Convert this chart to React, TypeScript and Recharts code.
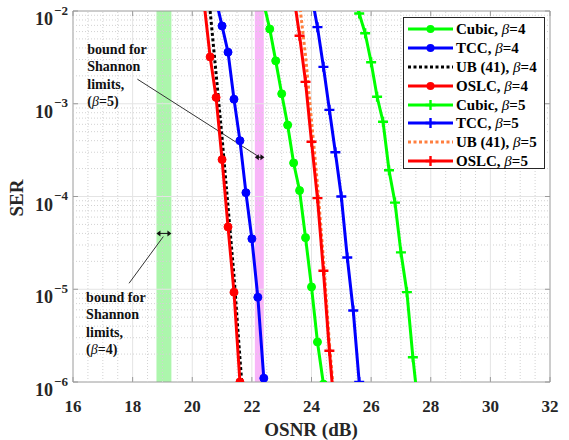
import React from "react";
import {
  ComposedChart,
  Line,
  XAxis,
  YAxis,
  Label,
  ReferenceArea,
  ReferenceLine,
  ReferenceDot,
} from "recharts";

const FONT = '"Liberation Serif", "Times New Roman", serif';
const INK = "#262626";
const FRAME = "#9a9a9a";
const MAJOR = "#e4e4e4";
const MINOR = "#d2d2d2";

const GREEN = "#00ff00";
const BLUE = "#0000ff";
const RED = "#ff0000";
const ORANGE = "#ff7f3f";
const BLACK = "#000000";

// plot box in px (fixed layout: margins + axis sizes)
const W = 569;
const H = 440;
const PLOT = { left: 73, right: 550, top: 11, bottom: 382 };

const X_TICKS = [16, 18, 20, 22, 24, 26, 28, 30, 32];
const Y_TICKS = [1e-6, 1e-5, 1e-4, 1e-3, 1e-2];

// beta = 4
const CUBIC4_OSNR = [22.4, 22.6, 22.8, 23.0, 23.2, 23.4, 23.6, 23.8, 24.0, 24.2, 24.4];
const CUBIC4_SER = [1.2e-2, 6.4e-3, 2.9e-3, 1.28e-3, 5.9e-4, 2.3e-4, 1.16e-4, 3.6e-5, 1.06e-5, 2.7e-6, 9.5e-7];
const TCC4_OSNR = [20.8, 21.0, 21.2, 21.4, 21.6, 21.8, 22.0, 22.2, 22.4];
const TCC4_SER = [1.3e-2, 6.9e-3, 3.6e-3, 1.12e-3, 4.0e-4, 1.1e-4, 3.5e-5, 8.2e-6, 1.1e-6];
const UB4_OSNR = [20.6, 20.8, 21.0, 21.2, 21.4, 21.6, 21.8];
const UB4_SER = [1.0e-2, 2.1e-3, 4.3e-4, 7.8e-5, 1.4e-5, 1.8e-6, 2.5e-7];
const OSLC4_OSNR = [20.4, 20.6, 20.8, 21.0, 21.2, 21.4, 21.6];
const OSLC4_SER = [1.2e-2, 3.2e-3, 1.17e-3, 2.5e-4, 4.7e-5, 9.3e-6, 1.0e-6];

// beta = 5
const CUBIC5_OSNR = [25.4, 25.6, 25.8, 26.0, 26.2, 26.4, 26.6, 26.8, 27.0, 27.2, 27.4, 27.6];
const CUBIC5_SER = [1.5e-2, 9.4e-3, 5.75e-3, 2.8e-3, 1.19e-3, 6.4e-4, 1.92e-4, 8.6e-5, 2.5e-5, 9.3e-6, 1.85e-6, 4.7e-7];
const TCC5_OSNR = [24.0, 24.2, 24.4, 24.6, 24.8, 25.0, 25.2, 25.4, 25.6];
const TCC5_SER = [1.5e-2, 6.7e-3, 2.5e-3, 8.6e-4, 3.0e-4, 1.0e-4, 2.2e-5, 5.9e-6, 1.0e-6];
const UB5_OSNR = [23.6, 23.8, 24.0, 24.2, 24.4, 24.6, 24.8];
const UB5_SER = [1.2e-2, 3.3e-3, 6.6e-4, 1.36e-4, 2.1e-5, 2.65e-6, 4.5e-7];
const OSLC5_OSNR = [23.4, 23.6, 23.8, 24.0, 24.2, 24.4, 24.6, 24.8];
const OSLC5_SER = [1.5e-2, 5.4e-3, 1.72e-3, 3.9e-4, 9.6e-5, 1.58e-5, 2.17e-6, 3.9e-7];

// Shannon-limit bands [from, to] in dB
const BAND4 = [18.8, 19.3];
const BAND5 = [22.1, 22.4];

type Marker = "circle" | "plus" | "none";
type Series = {
  name: string;
  beta: string;
  color: string;
  marker: Marker;
  dash?: string;
  osnr: number[];
  ser: number[];
};

const SERIES: Series[] = [
  { name: "Cubic, ", beta: "4", color: GREEN, marker: "circle", osnr: CUBIC4_OSNR, ser: CUBIC4_SER },
  { name: "TCC, ", beta: "4", color: BLUE, marker: "circle", osnr: TCC4_OSNR, ser: TCC4_SER },
  { name: "UB (41), ", beta: "4", color: BLACK, marker: "none", dash: "3 2.5", osnr: UB4_OSNR, ser: UB4_SER },
  { name: "OSLC, ", beta: "4", color: RED, marker: "circle", osnr: OSLC4_OSNR, ser: OSLC4_SER },
  { name: "Cubic, ", beta: "5", color: GREEN, marker: "plus", osnr: CUBIC5_OSNR, ser: CUBIC5_SER },
  { name: "TCC, ", beta: "5", color: BLUE, marker: "plus", osnr: TCC5_OSNR, ser: TCC5_SER },
  { name: "UB (41), ", beta: "5", color: ORANGE, marker: "none", dash: "3 2.5", osnr: UB5_OSNR, ser: UB5_SER },
  { name: "OSLC, ", beta: "5", color: RED, marker: "plus", osnr: OSLC5_OSNR, ser: OSLC5_SER },
];

// grid positions
const X_MINOR: number[] = [];
for (let v = 16.5; v < 32; v += 0.5) if (v % 2 !== 0) X_MINOR.push(v);
const Y_MINOR: number[] = [];
for (let e = -6; e < -2; e++) for (let m = 2; m <= 9; m++) Y_MINOR.push(m * Math.pow(10, e));

const plusDot = (color: string) => (props: any) => {
  const { cx, cy, index } = props;
  if (cx == null || cy == null) return <g key={index} />;
  return (
    <path
      key={index}
      d={`M${cx - 5},${cy}H${cx + 5}M${cx},${cy - 5}V${cy + 5}`}
      stroke={color}
      strokeWidth={2.4}
      fill="none"
    />
  );
};

const XTick = (props: any) => {
  const { x, y, payload } = props;
  return (
    <g>
      <line x1={x} x2={x} y1={PLOT.bottom} y2={PLOT.bottom - 5} stroke={FRAME} />
      <line x1={x} x2={x} y1={PLOT.top} y2={PLOT.top + 5} stroke={FRAME} />
      <text x={x} y={y + 30} textAnchor="middle" fontFamily={FONT} fontWeight="bold" fontSize={17} fill={INK}>
        {payload.value}
      </text>
    </g>
  );
};

const YTick = (props: any) => {
  const { x, y, payload } = props;
  const exp = Math.round(Math.log10(payload.value));
  return (
    <g>
      <line x1={PLOT.left} x2={PLOT.left + 5} y1={y} y2={y} stroke={FRAME} />
      <line x1={PLOT.right - 5} x2={PLOT.right} y1={y} y2={y} stroke={FRAME} />
      <text x={x - 20} y={y + 14} textAnchor="end" fontFamily={FONT} fontWeight="bold" fontSize={18} fill={INK}>
        10
      </text>
      <text x={x - 19} y={y + 3.5} textAnchor="start" fontFamily={FONT} fontWeight="bold" fontSize={13} fill={INK}>
        {`\u2212${-exp}`}
      </text>
    </g>
  );
};

const noteText = (beta: string) => (props: any) => {
  const { cx, cy } = props;
  const lh = 17.3;
  return (
    <text x={cx} y={cy} fontFamily={FONT} fontWeight="bold" fontSize={14} fill="#111">
      <tspan x={cx} y={cy}>bound for</tspan>
      <tspan x={cx} y={cy + lh}>Shannon</tspan>
      <tspan x={cx} y={cy + 2 * lh}>limits,</tspan>
      <tspan x={cx} y={cy + 3 * lh}>(</tspan>
      <tspan fontStyle="italic" fontWeight="normal">β</tspan>
      <tspan>{`=${beta})`}</tspan>
    </text>
  );
};

const doubleArrow = (half: number) => (props: any) => {
  const { cx, cy } = props;
  const h = 3;
  return (
    <g>
      <line x1={cx - half + 2} x2={cx + half - 2} y1={cy} y2={cy} stroke="#111" strokeWidth={1} />
      <path d={`M${cx - half},${cy}L${cx - half + h + 1},${cy - h}L${cx - half + h + 1},${cy + h}Z`} fill="#111" />
      <path d={`M${cx + half},${cy}L${cx + half - h - 1},${cy - h}L${cx + half - h - 1},${cy + h}Z`} fill="#111" />
    </g>
  );
};

function LegendBox() {
  return (
    <div
      style={{
        position: "absolute",
        left: 403,
        top: 17,
        width: 142,
        height: 152,
        border: `1px solid ${INK}`,
        background: "#fff",
        paddingTop: 2,
        boxSizing: "border-box",
        fontFamily: FONT,
        fontWeight: "bold",
        fontSize: 15,
        color: "#000",
      }}
    >
      {SERIES.map((s, i) => (
        <div key={i} style={{ height: 18.8, display: "flex", alignItems: "center" }}>
          <svg width={52} height={18} style={{ flex: "none" }}>
            <line x1={4} x2={49} y1={9} y2={9} stroke={s.color} strokeWidth={3} strokeDasharray={s.dash} />
            {s.marker === "circle" && <circle cx={26.5} cy={9} r={4} fill={s.color} />}
            {s.marker === "plus" && (
              <path d="M21.5,9H31.5M26.5,4V14" stroke={s.color} strokeWidth={2.4} />
            )}
          </svg>
          <span style={{ whiteSpace: "nowrap", lineHeight: "18px" }}>
            {s.name}
            <span style={{ fontStyle: "italic", fontWeight: "normal" }}>β</span>={s.beta}
          </span>
        </div>
      ))}
    </div>
  );
}

export default function App() {
  return (
    <div style={{ position: "absolute", left: 0, top: 0, width: W, height: H, background: "#fff" }}>
      <ComposedChart width={W} height={H} margin={{ top: PLOT.top, right: W - PLOT.right, bottom: 0, left: 0 }}>
        <XAxis
          type="number"
          dataKey="x"
          domain={[16, 32]}
          ticks={X_TICKS}
          interval={0}
          allowDataOverflow
          height={H - PLOT.bottom}
          axisLine={false}
          tickLine={false}
          tickSize={0}
          tickMargin={0}
          tick={<XTick />}
        >
          <Label
            content={() => (
              <text x={311} y={436} textAnchor="middle" fontFamily={FONT} fontWeight="bold" fontSize={19} fill={INK}>
                OSNR (dB)
              </text>
            )}
          />
        </XAxis>
        <YAxis
          type="number"
          dataKey="y"
          scale="log"
          domain={[1e-6, 1e-2]}
          ticks={Y_TICKS}
          interval={0}
          allowDataOverflow
          width={PLOT.left}
          axisLine={false}
          tickLine={false}
          tickSize={0}
          tickMargin={0}
          tick={<YTick />}
        >
          <Label
            content={() => (
              <text
                x={23}
                y={198}
                transform="rotate(-90 23 198)"
                textAnchor="middle"
                fontFamily={FONT}
                fontWeight="bold"
                fontSize={19}
                fill={INK}
              >
                SER
              </text>
            )}
          />
        </YAxis>

        <ReferenceArea x1={BAND4[0]} x2={BAND4[1]} fill="#9ef59e" fillOpacity={0.85} stroke="none" />
        <ReferenceArea x1={BAND5[0]} x2={BAND5[1]} fill="#f7a8f7" fillOpacity={0.85} stroke="none" />

        {X_MINOR.map((v) => (
          <ReferenceLine key={`xm${v}`} x={v} stroke={MINOR} strokeDasharray="1 2" />
        ))}
        {Y_MINOR.map((v) => (
          <ReferenceLine key={`ym${v}`} y={v} stroke={MINOR} strokeDasharray="1 2" />
        ))}
        {X_TICKS.slice(1, -1).map((v) => (
          <ReferenceLine key={`xM${v}`} x={v} stroke={MAJOR} />
        ))}
        {Y_TICKS.slice(1, -1).map((v) => (
          <ReferenceLine key={`yM${v}`} y={v} stroke={MAJOR} />
        ))}

        <ReferenceLine segment={[{ x: 18.16, y: 1.84e-3 }, { x: 22.26, y: 2.65e-4 }]} stroke="#333" strokeWidth={1} />
        <ReferenceLine segment={[{ x: 17.88, y: 1.16e-5 }, { x: 19.03, y: 3.7e-5 }]} stroke="#333" strokeWidth={1} />
        <ReferenceDot x={22.26} y={2.65e-4} shape={doubleArrow(4.8)} />
        <ReferenceDot x={19.05} y={4.0e-5} shape={doubleArrow(7.5)} />
        <ReferenceDot x={16.48} y={3.44e-3} shape={noteText("5")} />
        <ReferenceDot x={16.44} y={7.3e-6} shape={noteText("4")} />

        {SERIES.map((s, i) => (
          <Line
            key={i}
            data={s.osnr.map((x, j) => ({ x, y: s.ser[j] }))}
            dataKey="y"
            type="linear"
            stroke={s.color}
            strokeWidth={3}
            strokeDasharray={s.dash}
            dot={
              s.marker === "circle"
                ? { r: 4, fill: s.color, stroke: s.color, strokeWidth: 1 }
                : s.marker === "plus"
                ? plusDot(s.color)
                : false
            }
            activeDot={false}
            isAnimationActive={false}
          />
        ))}

        <ReferenceArea x1={16} x2={32} y1={1e-6} y2={1e-2} fill="none" stroke={FRAME} strokeWidth={1} />
      </ComposedChart>
      <LegendBox />
    </div>
  );
}
